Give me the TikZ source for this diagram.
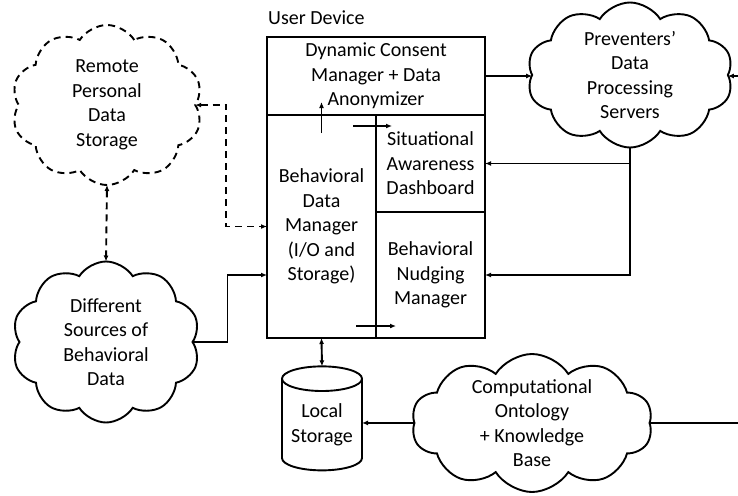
\documentclass[tikz,border=0pt]{standalone}
\usepackage{fontspec}
\setmainfont{Carlito}
\usetikzlibrary{arrows.meta,calc,positioning,shapes.geometric,shapes.symbols}
\newcommand{\txt}{\fontsize{20}{24.5}\selectfont}
\tikzstyle{part}=[
  draw,
  line width=1.9pt,
  rectangle,
  inner sep=2pt,
  outer sep=0pt,
  align=center,
  font=\txt,
]
\tikzstyle{cloudy}=[
  cloud,
  draw,
  line width=1.9pt,
  cloud puffs=10,
  cloud puff arc=115,
  inner xsep=-28pt,
  inner ysep=-22pt,
  outer sep=0pt,
  align=center,
  font=\txt,
]
\tikzstyle{dashcloud}=[
  cloudy,
  dash pattern=on 7pt off 5pt,
]
\tikzstyle{store}=[
  cylinder,
  shape border rotate=90,
  draw,
  line width=1.9pt,
  aspect=0.4,
  inner sep=0pt,
  outer sep=0pt,
  align=center,
  font=\txt,
]
\tikzstyle{link}=[
  line width=1.9pt,
]
\tikzstyle{dashlink}=[
  link,
  dash pattern=on 7pt off 5pt,
]
\tikzset{
  >={Latex[length=6pt,width=5pt]},
}
\begin{document}
\begin{tikzpicture}[x=1pt,y=-1pt]
  \useasboundingbox (0,0) rectangle (738,495);
  %% user device
  \node (consent) [part, minimum width=218pt, minimum height=78pt, anchor=north west] at (267,37) {Dynamic Consent\\Manager + Data\\Anonymizer};
  \node (dataman) [part, minimum width=109pt, minimum height=223pt, anchor=north west] at (consent.south west) {Behavioral\\Data\\Manager\\(I/O and\\Storage)};
  \node (dashboard) [part, minimum width=109pt, minimum height=97pt, anchor=north west] at (dataman.north east) {Situational\\Awareness\\Dashboard};
  \node (nudging) [part, minimum width=109pt, minimum height=126pt, anchor=north west] at (dashboard.south west) {Behavioral\\Nudging\\Manager};
  \node (device) [font=\txt, inner sep=0pt, anchor=west] at (268,18) {User Device};
  %% clouds
  \node (remote) [dashcloud, minimum width=191pt, minimum height=160pt] at (107,105) {Remote\\Personal\\Data\\Storage};
  \node (src) [cloudy, minimum width=188pt, minimum height=161pt] at (106,342) {Different\\Sources of\\Behavioral\\Data};
  \node (prev) [cloudy, minimum width=206pt, minimum height=145pt] at (630,75) {Preventers’\\Data\\Processing\\Servers};
  \node (onto) [cloudy, minimum width=241pt, minimum height=138pt] at (532,423) {Computational\\Ontology\\+ Knowledge\\Base};
  %% local storage
  \node (local) [store, minimum width=80pt, minimum height=104pt] at (322,425) {Local\\Storage};
  \coordinate (edgeR) at (738,76);
  \coordinate (edgeB) at (738,423);
  %%
  \draw [->, link] (consent.east) -- (consent.east -| prev.west);
  \draw [->, link] (edgeR) -- (edgeR -| prev.east);
  \draw [->, link] (prev.south) |- (nudging.east);
  \draw [->, link] (prev.south |- dashboard.east) -- (dashboard.east);
  \draw [->, link] ($(dataman.north)+(0,18)$) -- ++(0,-31);
  \draw [->, link] ($(dataman.north east)+(-23,11)$) -- ++(39,0);
  \draw [->, link] ($(dataman.south east)+(-20,-12)$) -- ++(40,0);
  \draw [<->, link] (dataman.south) -- (local.north);
  \draw [->, link] (onto.west) -- (onto.west -| local.east);
  \draw [link] (onto.east) -- (edgeB);
  \draw [->, link] (src.east) -- ++(35,0) |- (dataman.west |- nudging.west);
  \draw [<->, dashlink] (remote.east) -- ++(31,0) |- (dataman.west);
  \draw [<->, dashlink] (remote.south) -- (src.north);
\end{tikzpicture}
\end{document}
